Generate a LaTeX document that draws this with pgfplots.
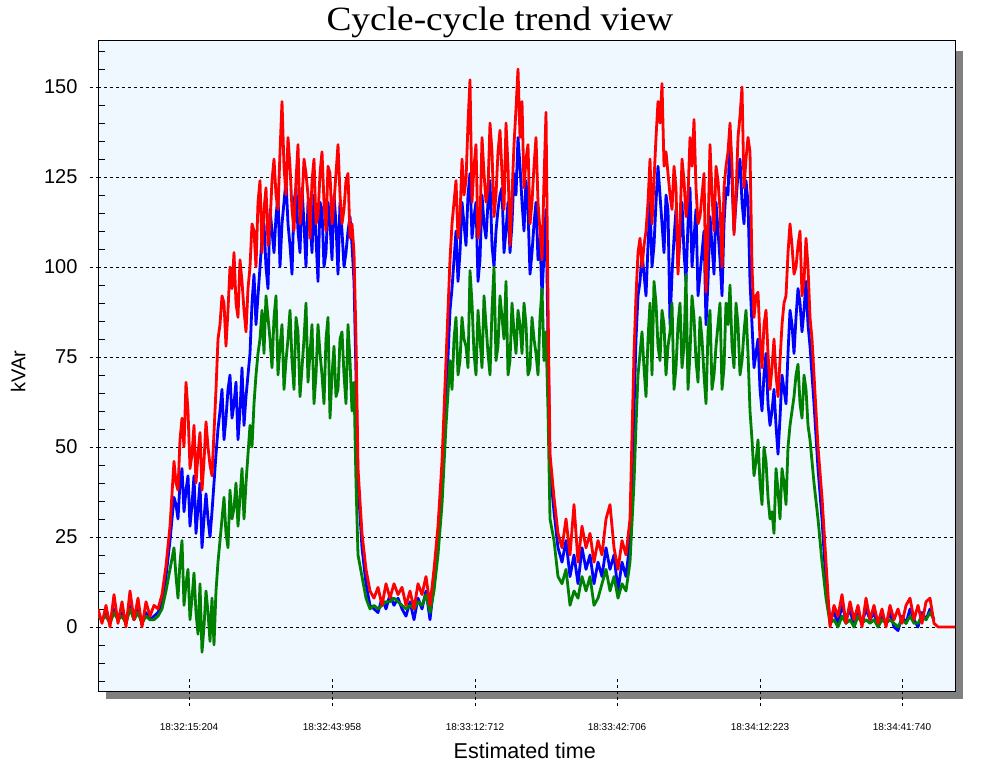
\documentclass[border=0pt]{standalone}
\usepackage{pgfplots}
\pgfplotsset{compat=1.18}
\usepackage{pgfplotstable}
\usepackage{fontspec}
\setmainfont{Liberation Sans}
\newfontfamily\titlefont{Liberation Serif}
\definecolor{bgblue}{RGB}{240,248,255}
\definecolor{shadowgray}{RGB}{128,128,128}
\definecolor{cgreen}{RGB}{0,128,0}
\definecolor{cblue}{RGB}{0,0,255}
\definecolor{cred}{RGB}{255,0,0}

\pgfplotstableread{
x b g r
98 3 3 5
102 2 2 1
106 4 3 6
110 1 1 0
114 5 4 9
118 2 2 1
122 4 3 7
126 1 1 0
130 6 5 10
134 2 2 2
138 5 4 8
142 1 1 0
146 4 3 7
150 2 2 3
154 3 2 6
158 4 3 5
162 7 5 9
166 14 10 17
170 24 16 28
174 36 22 46
176 34 14 40
178 30 8 38
180 40 18 52
182 44 24 58
184 32 6 50
186 38 12 68
188 42 16 60
190 28 2 44
192 34 8 48
194 42 15 56
196 26 4 40
198 33 -2 48
200 40 12 54
202 22 -7 38
204 30 0 46
206 37 10 57
208 30 4 50
210 25 -4 45
212 32 8 42
214 40 -5 54
216 48 10 66
218 55 18 80
220 60 24 84
222 66 30 92
224 52 36 90
226 58 26 78
228 66 22 88
230 70 38 100
232 58 30 94
234 62 33 104
236 68 40 90
238 52 28 86
240 60 36 102
242 72 44 96
244 56 30 88
246 64 40 82
248 70 48 94
250 76 56 100
252 90 50 112
254 98 62 110
256 84 70 100
258 92 76 118
260 100 80 124
262 108 88 104
264 112 76 116
266 100 92 122
268 94 86 106
270 116 80 112
272 110 72 124
274 104 86 130
276 114 92 120
278 120 70 116
280 100 78 132
282 112 84 146
284 118 66 128
286 124 74 120
288 112 80 136
290 106 88 128
292 98 74 116
294 118 66 110
296 122 86 124
298 110 82 134
300 104 64 112
302 122 72 118
304 112 80 130
306 100 90 126
308 118 68 120
310 114 76 108
312 104 84 124
314 120 62 130
316 108 70 112
318 96 84 114
320 118 76 126
322 116 70 132
324 100 62 118
326 104 80 110
328 118 86 128
330 112 58 126
332 102 70 112
334 120 78 118
336 112 64 126
338 98 66 134
340 118 80 120
342 110 82 112
344 100 70 116
346 104 62 124
348 110 84 126
350 114 74 108
352 106 60 112
354 96 68 104
356 70 40 80
358 40 20 44
362 22 14 26
366 12 8 16
370 6 5 10
374 5 6 8
378 4 5 11
382 8 6 6
386 5 7 12
390 9 7 8
394 6 8 12
398 8 7 9
402 5 6 11
406 3 5 6
410 7 6 10
414 2 5 5
418 8 7 12
422 5 6 9
426 10 9 14
430 2 4 6
434 12 10 16
438 24 20 28
442 40 34 46
446 62 56 74
450 88 74 102
452 94 66 112
454 102 80 118
456 110 86 124
458 96 70 108
460 104 74 114
462 118 86 130
464 112 80 120
466 106 78 124
468 120 72 140
470 126 99 152
472 108 90 118
474 114 76 128
476 118 70 134
478 96 88 108
480 102 80 112
482 120 72 136
484 112 92 126
486 108 84 118
488 118 76 122
490 124 70 140
492 106 88 132
494 100 100 114
496 110 74 120
498 116 78 132
500 120 92 138
502 122 86 126
504 104 80 116
506 110 96 140
508 118 70 128
510 104 74 106
512 112 90 120
514 126 82 134
516 120 76 144
518 136 88 155
520 128 84 136
522 118 76 146
524 110 90 122
526 124 84 130
528 116 70 134
530 98 72 112
532 104 86 118
534 112 80 128
536 118 76 136
538 102 70 118
540 108 86 110
542 92 94 102
544 104 74 124
546 116 82 143
548 80 60 90
550 44 30 48
554 32 24 36
558 22 14 26
562 18 12 22
566 24 16 30
570 14 6 20
574 20 10 34
578 12 8 18
582 22 14 28
586 16 10 22
590 20 14 26
594 12 6 18
598 18 8 24
602 14 12 20
606 22 16 30
610 16 10 34
614 20 14 22
618 10 8 16
622 18 12 24
626 14 10 20
630 24 18 30
634 60 40 76
636 80 56 92
638 92 70 104
640 96 76 108
642 104 82 100
644 98 72 106
646 92 64 110
648 106 80 118
650 118 90 130
652 100 70 112
654 106 96 124
656 118 90 136
658 128 78 146
660 120 74 140
662 112 88 151
664 104 84 128
666 120 70 132
668 116 78 126
670 84 82 120
672 98 90 116
674 108 66 128
676 116 72 122
678 100 84 98
680 108 90 112
682 118 72 130
684 104 78 124
686 96 98 114
688 112 66 120
690 122 76 136
692 100 92 128
694 108 86 141
696 116 74 122
698 92 68 112
700 98 86 114
702 104 80 120
704 110 70 126
706 84 62 93
708 96 82 110
710 114 88 134
712 106 66 120
714 98 70 110
716 118 78 128
718 110 84 124
720 102 90 116
722 92 66 100
724 112 72 122
726 122 90 128
728 120 84 132
730 137 95 140
732 124 78 128
734 110 72 109
736 118 90 120
738 126 84 136
740 130 70 142
742 118 74 150
744 112 82 122
746 124 88 130
748 118 76 136
750 96 60 132
752 84 52 100
754 72 42 86
756 76 46 92
758 80 52 93
760 66 40 80
762 60 34 72
764 70 50 84
766 76 46 88
768 62 36 76
770 56 30 66
772 60 32 72
774 66 26 80
776 56 44 70
778 48 38 64
780 58 30 74
782 70 44 84
784 66 40 90
786 62 34 92
788 76 50 104
790 88 56 112
792 84 60 106
794 76 64 98
796 86 70 100
798 94 73 106
800 90 62 110
802 82 58 92
804 88 70 96
806 96 66 108
808 84 56 100
810 78 52 86
812 70 46 80
814 62 40 70
818 44 30 50
822 30 18 36
826 12 8 18
830 2 1 0
834 4 2 6
838 1 0 3
842 6 3 9
846 2 1 1
850 5 2 7
854 0 0 2
858 4 3 6
862 1 1 0
866 5 2 8
870 2 1 2
874 4 2 6
878 0 0 1
882 3 2 5
886 1 1 0
890 4 2 6
894 0 1 2
898 -1 0 5
902 3 2 1
906 1 1 6
910 5 3 8
914 2 1 2
918 0 1 6
922 4 3 1
926 2 2 7
930 5 4 8
934 2 2 1
938 nan nan 0
955 nan nan 0
}\data

\begin{document}
\begin{tikzpicture}[x=1pt,y=1pt]
\useasboundingbox (0,0) rectangle (1000,766);
\fill[shadowgray] (106,67) rectangle (963,715);
\begin{axis}[
  at={(98pt,75pt)}, anchor=south west,
  scale only axis, width=857pt, height=650pt,
  xmin=98, xmax=955, ymin=-17.8, ymax=162.8,
  axis background/.style={fill=bgblue},
  axis line style={black, line width=1pt},
  xtick=\empty,
  ytick={0,25,50,75,100,125,150},
  ytick pos=left, ytick align=outside, major tick length=8pt,
  tick style={black, line width=0.8pt, dash pattern=on 3pt off 3pt},
  ymajorgrids,
  major grid style={black, line width=0.8pt, dash pattern=on 3pt off 3pt},
  extra y ticks={-15,-10,-5,5,10,15,20,30,35,40,45,55,60,65,70,80,85,90,95,105,110,115,120,130,135,140,145,155,160},
  extra y tick labels={},
  extra y tick style={ytick align=inside, major tick length=7pt, grid=none, tick style={solid, line width=0.8pt}},
  /pgf/number format/assume math mode=true,
  yticklabel style={font=\fontsize{20}{20}\selectfont, xshift=-9pt},
  ylabel={kVAr},
  ylabel style={font=\fontsize{20}{20}\selectfont, at={(axis description cs:-0.0933,0.491)}, anchor=center},
  title={\titlefont\fontsize{34}{34}\selectfont\scalebox{1.1}[1]{Cycle-cycle trend view}},
  title style={at={(axis description cs:0.469,1.019)}, anchor=center},
  every axis plot/.append style={line width=2.8pt, sharp plot, no markers, line join=round},
  clip=true,
]
\addplot[cblue] table[x=x, y=b] {\data};
\addplot[cgreen] table[x=x, y=g] {\data};
\addplot[cred] table[x=x, y=r] {\data};
\end{axis}
\begin{axis}[
  at={(98pt,75pt)}, anchor=south west,
  scale only axis, width=857pt, height=650pt,
  xmin=98, xmax=955, ymin=-17.8, ymax=162.8,
  axis line style={draw=none},
  ytick=\empty,
  xtick={189,332,475,617,760,902},
  xticklabels={18:32:15:204,18:32:43:958,18:33:12:712,18:33:42:706,18:34:12:223,18:34:41:740},
  xtick pos=bottom, xtick align=center, major tick length=29pt,
  tick style={black, line width=0.8pt, dash pattern=on 3pt off 3pt},
  xticklabel style={font=\fontsize{10}{10}\selectfont, yshift=-14pt},
  xlabel={Estimated time},
  xlabel style={font=\fontsize{21.5}{21.5}\selectfont, at={(axis description cs:0.498,-0.0923)}, anchor=center},
]
\end{axis}
\end{tikzpicture}
\end{document}
